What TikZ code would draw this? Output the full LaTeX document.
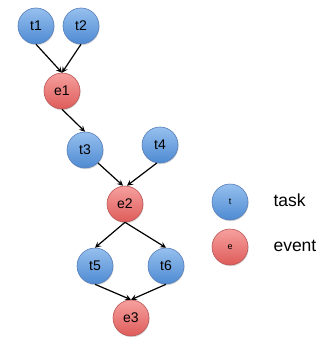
\documentclass[tikz,border=0pt]{standalone}
\usepackage{fontspec}
\setmainfont{Liberation Sans}
\usetikzlibrary{arrows.meta,shadows}
\definecolor{btop}{RGB}{150,192,238}
\definecolor{bbot}{RGB}{78,138,210}
\definecolor{bline}{RGB}{85,125,185}
\definecolor{rtop}{RGB}{246,160,158}
\definecolor{rbot}{RGB}{222,92,90}
\definecolor{rline}{RGB}{185,85,85}
\tikzset{
  tasknode/.style={circle,minimum size=36pt,inner sep=0pt,draw=bline,line width=0.6pt,
    top color=btop,bottom color=bbot,font=\fontsize{14}{14}\selectfont,
    drop shadow={shadow xshift=0.6pt,shadow yshift=-1.2pt,opacity=0.3}},
  eventnode/.style={circle,minimum size=36pt,inner sep=0pt,draw=rline,line width=0.6pt,
    top color=rtop,bottom color=rbot,font=\fontsize{14}{14}\selectfont,
    drop shadow={shadow xshift=0.6pt,shadow yshift=-1.2pt,opacity=0.3}},
  conn/.style={-{Stealth[length=6pt,width=6pt,inset=2.5pt]},line width=1.2pt,black},
  legtext/.style={anchor=west,font=\fontsize{17.5}{17.5}\selectfont}
}
\begin{document}
\begin{tikzpicture}[x=1pt,y=-1pt]
\useasboundingbox (0,0) rectangle (324,337);
\node[tasknode] (t1) at (36,26) {t1};
\node[tasknode] (t2) at (81,26) {t2};
\node[eventnode] (e1) at (62,91) {e1};
\node[tasknode] (t3) at (85,150) {t3};
\node[tasknode] (t4) at (160,145) {t4};
\node[eventnode] (e2) at (125,204) {e2};
\node[tasknode] (t5) at (95,266) {t5};
\node[tasknode] (t6) at (166,266) {t6};
\node[eventnode] (e3) at (131,318) {e3};
\node[tasknode,font=\fontsize{9}{9}\selectfont] (lt) at (230,202) {t};
\node[eventnode,font=\fontsize{9}{9}\selectfont] (le) at (230,247) {e};
\node[legtext] (ltt) at (270,200) {task};
\node[legtext] (let) at (270,246) {event};
\draw[conn] (t1.south) -- (e1.north);
\draw[conn] (t2.south) -- (e1.north);
\draw[conn] (e1.south) -- (t3.north);
\draw[conn] (t3.-45) -- ([xshift=-2pt]e2.north);
\draw[conn] (t4.-100) -- ([xshift=2pt]e2.north);
\draw[conn] (e2.south) -- (t5.north);
\draw[conn] (e2.south) -- (t6.north);
\draw[conn] (t5.south) -- (e3.north);
\draw[conn] (t6.south) -- (e3.north);
\end{tikzpicture}
\end{document}
